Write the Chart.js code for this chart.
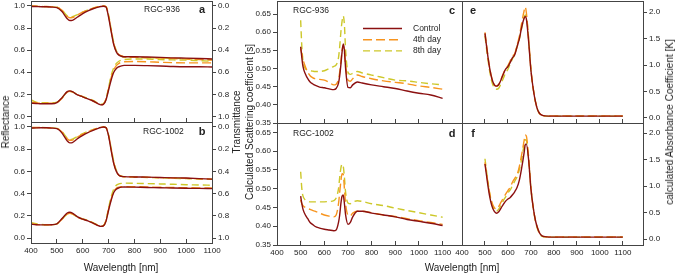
<!DOCTYPE html>
<html>
<head>
<meta charset="utf-8">
<script src="https://cdn.jsdelivr.net/npm/chart.js@4.4.0/dist/chart.umd.min.js"></script>
<style>
  body { margin: 0; background: #fff; }
  #fig { position: relative; width: 677px; height: 276px; font-family: "Liberation Sans", Arial, sans-serif; color: #222; overflow: hidden; }
  #fig canvas { position: absolute; left: 0; top: 0; }
  .txt { position: absolute; white-space: nowrap; font-size: 8.5px; line-height: 1; transform: translateY(-50%); }
  .letra { position: absolute; font-size: 11px; font-weight: bold; line-height: 1; transform: translate(-50%, -50%); }
  .titulo { position: absolute; font-size: 10px; white-space: nowrap; line-height: 1; transform: translate(-50%, -50%); }
  .vert { transform: translate(-50%, -50%) rotate(-90deg); }
</style>
</head>
<body>
<div id="fig">
  <canvas id="pa" width="677" height="276"></canvas>
  <canvas id="pb" width="677" height="276"></canvas>
  <canvas id="pc" width="677" height="276"></canvas>
  <canvas id="pd" width="677" height="276"></canvas>
  <canvas id="pe" width="677" height="276"></canvas>
  <canvas id="pf" width="677" height="276"></canvas>

  <div class="txt" style="left:144px; top:9px;">RGC-936</div>
  <div class="letra" style="left:202px; top:9px;">a</div>
  <div class="txt" style="left:143px; top:131px;">RGC-1002</div>
  <div class="letra" style="left:202px; top:131px;">b</div>
  <div class="txt" style="left:293px; top:10px;">RGC-936</div>
  <div class="letra" style="left:452px; top:10px;">c</div>
  <div class="txt" style="left:293px; top:133px;">RGC-1002</div>
  <div class="letra" style="left:452px; top:133px;">d</div>
  <div class="letra" style="left:473px; top:10px;">e</div>
  <div class="letra" style="left:473px; top:133px;">f</div>

  <div class="titulo vert" style="left:6px; top:122px;">Reflectance</div>
  <div class="titulo vert" style="left:237px; top:122px;">Transmittance</div>
  <div class="titulo vert" style="left:250px; top:122px;">Calculated Scattering coefficient [s]</div>
  <div class="titulo vert" style="left:670px; top:122px;">calculated Absorbance Coefficient [K]</div>
  <div class="titulo" style="left:121px; top:268px;">Wavelength [nm]</div>
  <div class="titulo" style="left:462px; top:268px;">Wavelength [nm]</div>
</div>

<script>
const W = 677, H = 276;
const AX = 26; // tamaño fijo de cada eje

// Longitudes de onda y ticks
const wlTicks = [400, 500, 600, 700, 800, 900, 1000, 1100];
const reflTicks = [0, 0.2, 0.4, 0.6, 0.8, 1.0];
const scatTicks = [0.35, 0.40, 0.45, 0.50, 0.55, 0.60, 0.65];
const absTicks = [0, 0.5, 1.0, 1.5, 2.0];

const wlAB = [400,420,440,460,480,500,520,540,550,560,580,600,620,640,660,670,680,690,700,710,720,730,740,750,760,800,850,900,950,1000,1050,1100];
const wlScat = [500,505,510,520,530,540,550,560,580,600,620,640,650,660,665,670,675,680,685,690,700,710,720,740,760,800,850,900,950,1000,1050,1100];
const wlAbs = [500,510,520,530,540,550,560,570,580,590,600,610,620,630,640,650,660,670,675,680,690,700,710,720,730,740,750,760,800,900,1000,1100];

// a - RGC-936 reflectancia / transmitancia
const refl936Control = [0.12,0.118,0.115,0.115,0.115,0.125,0.17,0.225,0.232,0.225,0.195,0.178,0.16,0.14,0.115,0.105,0.11,0.15,0.24,0.33,0.40,0.435,0.45,0.458,0.462,0.462,0.46,0.457,0.452,0.45,0.45,0.448];
const refl936Day4 = [0.13,0.125,0.12,0.12,0.12,0.125,0.165,0.22,0.228,0.222,0.195,0.178,0.16,0.14,0.115,0.105,0.112,0.155,0.25,0.35,0.42,0.46,0.48,0.49,0.495,0.497,0.495,0.49,0.487,0.485,0.485,0.485];
const refl936Day8 = [0.15,0.13,0.125,0.125,0.125,0.13,0.17,0.22,0.228,0.222,0.198,0.18,0.165,0.145,0.12,0.11,0.115,0.16,0.26,0.37,0.44,0.48,0.5,0.51,0.515,0.52,0.52,0.515,0.512,0.51,0.505,0.5];
const trans936Control = [0.005,0.005,0.007,0.007,0.01,0.015,0.05,0.115,0.132,0.13,0.10,0.07,0.045,0.025,0.01,0.005,0.003,0.01,0.10,0.23,0.35,0.415,0.445,0.455,0.46,0.46,0.462,0.465,0.47,0.472,0.475,0.48];
const trans936Day4 = [0,0.002,0.005,0.005,0.007,0.01,0.04,0.095,0.107,0.105,0.08,0.055,0.035,0.02,0.007,0.003,0,0.005,0.09,0.22,0.34,0.41,0.44,0.452,0.46,0.465,0.468,0.472,0.476,0.48,0.485,0.49];
const trans936Day8 = [0,0.003,0.005,0.006,0.008,0.012,0.038,0.09,0.1,0.098,0.078,0.055,0.035,0.02,0.007,0.003,0,0.005,0.08,0.21,0.33,0.405,0.44,0.455,0.463,0.465,0.468,0.47,0.474,0.478,0.482,0.485];

// b - RGC-1002
const refl1002Control = [0.125,0.12,0.118,0.118,0.12,0.128,0.175,0.225,0.232,0.225,0.19,0.17,0.155,0.135,0.112,0.105,0.11,0.15,0.25,0.34,0.41,0.44,0.452,0.458,0.46,0.458,0.455,0.453,0.45,0.448,0.447,0.445];
const refl1002Day4 = [0.13,0.122,0.12,0.12,0.12,0.127,0.17,0.215,0.222,0.217,0.188,0.17,0.155,0.135,0.112,0.105,0.11,0.155,0.26,0.35,0.42,0.448,0.458,0.462,0.463,0.462,0.46,0.457,0.455,0.453,0.452,0.45];
const refl1002Day8 = [0.14,0.128,0.122,0.12,0.12,0.127,0.17,0.215,0.222,0.217,0.188,0.172,0.158,0.138,0.115,0.107,0.113,0.16,0.27,0.37,0.44,0.475,0.487,0.492,0.494,0.493,0.49,0.487,0.484,0.48,0.478,0.475];
const trans1002Control = [0.01,0.008,0.007,0.007,0.01,0.015,0.055,0.125,0.143,0.14,0.105,0.075,0.05,0.03,0.012,0.005,0,0.005,0.08,0.21,0.33,0.4,0.435,0.445,0.447,0.45,0.452,0.455,0.458,0.46,0.465,0.47];
const trans1002Day4 = [0.005,0.005,0.005,0.006,0.008,0.012,0.045,0.105,0.12,0.118,0.09,0.065,0.042,0.025,0.01,0.004,0,0.005,0.075,0.2,0.32,0.4,0.435,0.445,0.448,0.45,0.453,0.456,0.46,0.463,0.467,0.47];
const trans1002Day8 = [0.008,0.006,0.005,0.006,0.008,0.012,0.043,0.1,0.115,0.11,0.085,0.06,0.04,0.023,0.009,0.003,0,0.005,0.07,0.19,0.31,0.39,0.43,0.443,0.448,0.452,0.455,0.458,0.462,0.465,0.468,0.472];

// c, d - coeficiente de dispersion
const scat936Control = [0.56,0.53,0.505,0.485,0.472,0.463,0.458,0.454,0.449,0.447,0.444,0.442,0.445,0.46,0.48,0.51,0.545,0.568,0.55,0.5,0.448,0.447,0.455,0.463,0.46,0.455,0.45,0.445,0.438,0.432,0.427,0.418];
const scat936Day4 = [0.555,0.54,0.525,0.505,0.49,0.48,0.475,0.472,0.47,0.468,0.462,0.455,0.457,0.47,0.49,0.52,0.55,0.563,0.545,0.51,0.468,0.465,0.472,0.482,0.478,0.472,0.466,0.462,0.458,0.452,0.448,0.443];
const scat936Day8 = [0.633,0.56,0.52,0.5,0.496,0.494,0.493,0.492,0.492,0.494,0.5,0.506,0.51,0.53,0.56,0.6,0.63,0.645,0.62,0.55,0.49,0.484,0.487,0.492,0.488,0.482,0.475,0.468,0.466,0.462,0.458,0.455];
const scat1002Control = [0.48,0.46,0.445,0.43,0.42,0.41,0.405,0.4,0.395,0.392,0.39,0.388,0.39,0.41,0.43,0.46,0.48,0.483,0.46,0.43,0.405,0.41,0.425,0.44,0.44,0.435,0.43,0.425,0.418,0.413,0.408,0.402];
const scat1002Day4 = [0.47,0.46,0.455,0.45,0.447,0.445,0.442,0.44,0.435,0.43,0.427,0.425,0.43,0.46,0.49,0.52,0.54,0.538,0.5,0.46,0.43,0.428,0.435,0.44,0.44,0.436,0.43,0.426,0.42,0.415,0.41,0.405];
const scat1002Day8 = [0.545,0.5,0.48,0.47,0.467,0.465,0.465,0.465,0.465,0.465,0.466,0.468,0.475,0.5,0.53,0.555,0.565,0.56,0.53,0.49,0.462,0.46,0.464,0.468,0.466,0.46,0.455,0.448,0.442,0.436,0.43,0.424];

// e, f - coeficiente de absorbancia
const abs936Control = [1.6,1.25,0.95,0.74,0.63,0.6,0.63,0.72,0.83,0.92,0.97,1.05,1.14,1.2,1.35,1.5,1.72,1.88,1.92,1.88,1.45,0.9,0.55,0.3,0.14,0.07,0.045,0.035,0.03,0.03,0.03,0.03];
const abs936Day4 = [1.62,1.27,0.96,0.75,0.63,0.6,0.63,0.73,0.84,0.93,0.99,1.08,1.17,1.22,1.38,1.55,1.8,2.02,2.1,2.0,1.5,0.92,0.56,0.3,0.14,0.07,0.045,0.04,0.035,0.035,0.035,0.035];
const abs936Day8 = [1.55,1.2,0.9,0.68,0.57,0.54,0.56,0.65,0.75,0.85,0.92,1.02,1.12,1.2,1.35,1.5,1.7,1.9,1.95,1.93,1.5,0.92,0.55,0.3,0.14,0.06,0.04,0.03,0.03,0.03,0.03,0.03];
const abs1002Control = [1.42,1.1,0.82,0.63,0.53,0.49,0.52,0.59,0.66,0.72,0.76,0.79,0.84,0.9,0.98,1.12,1.35,1.62,1.78,1.8,1.5,0.95,0.6,0.35,0.2,0.1,0.06,0.05,0.04,0.04,0.04,0.04];
const abs1002Day4 = [1.45,1.15,0.88,0.7,0.6,0.57,0.62,0.7,0.78,0.85,0.92,0.98,1.08,1.15,1.22,1.38,1.6,1.85,1.97,1.95,1.55,0.98,0.6,0.35,0.2,0.1,0.06,0.05,0.045,0.045,0.045,0.045];
const abs1002Day8 = [1.52,1.18,0.88,0.67,0.56,0.53,0.57,0.65,0.73,0.8,0.88,0.93,1.02,1.1,1.18,1.32,1.52,1.78,1.88,1.87,1.5,0.96,0.6,0.34,0.18,0.09,0.055,0.045,0.04,0.04,0.04,0.04];

const colores = { control: '#8b1010', day4: '#f7941e', day8: '#cdc82a' };
const fuente = { family: '"Liberation Sans", Arial, sans-serif', size: 8 };

Chart.defaults.font.family = fuente.family;
Chart.defaults.color = '#222';

function serie(label, xs, ys, color, dash, eje) {
  return {
    label: label,
    data: xs.map((x, i) => ({ x: x, y: ys[i] })),
    borderColor: color,
    borderWidth: 1.4,
    borderDash: dash,
    pointRadius: 0,
    cubicInterpolationMode: 'monotone',
    fill: false,
    yAxisID: eje || 'y'
  };
}

function tres(xs, c, d4, d8, eje) {
  return [
    serie('Control', xs, c, colores.control, [], eje),
    serie('4th day', xs, d4, colores.day4, [9, 4], eje),
    serie('8th day', xs, d8, colores.day8, [7, 4], eje)
  ];
}

// cada eje mide AX; el area del grafico se fija con el padding
function fijar(scale) {
  if (scale.isHorizontal()) scale.height = AX; else scale.width = AX;
  scale.paddingLeft = scale.paddingRight = scale.paddingTop = scale.paddingBottom = 0;
}

function ejeX(max, etiquetas) {
  return {
    type: 'linear', min: 400, max: max,
    afterBuildTicks: s => { s.ticks = wlTicks.map(v => ({ value: v })); },
    afterFit: fijar,
    ticks: { display: etiquetas, autoSkip: false, maxRotation: 0, padding: 7, font: fuente, color: '#222', callback: v => String(v) },
    grid: { drawOnChartArea: false, tickLength: -4, color: '#444' },
    border: { display: false }
  };
}

function ejeY(pos, min, max, lista, dec, reverse) {
  return {
    type: 'linear', position: pos, min: min, max: max, reverse: !!reverse,
    afterBuildTicks: s => { s.ticks = lista.map(v => ({ value: v })); },
    afterFit: fijar,
    ticks: { autoSkip: false, padding: 2, font: fuente, color: '#222', callback: v => v.toFixed(dec) },
    grid: { drawOnChartArea: false, tickLength: 4, color: '#444' },
    border: { display: false }
  };
}

const marco = {
  id: 'marco',
  afterDraw(chart) {
    const a = chart.chartArea, ctx = chart.ctx;
    ctx.save();
    ctx.strokeStyle = '#444';
    ctx.lineWidth = 1;
    ctx.strokeRect(Math.round(a.left) + 0.5, Math.round(a.top) + 0.5, Math.round(a.right - a.left), Math.round(a.bottom - a.top));
    ctx.restore();
  }
};

const leyendaInterna = {
  id: 'leyendaInterna',
  afterDatasetsDraw(chart, args, opts) {
    if (!opts.show) return;
    const ctx = chart.ctx, a = chart.chartArea;
    chart.data.datasets.forEach((ds, i) => {
      const x = a.left + 86, y = a.top + 27.5 + i * 11.2;
      ctx.save();
      ctx.strokeStyle = ds.borderColor;
      ctx.lineWidth = ds.borderWidth;
      ctx.setLineDash(ds.borderDash);
      ctx.beginPath();
      ctx.moveTo(x, y);
      ctx.lineTo(x + 39, y);
      ctx.stroke();
      ctx.setLineDash([]);
      ctx.fillStyle = '#222';
      ctx.font = '8.5px ' + fuente.family;
      ctx.textBaseline = 'middle';
      ctx.fillText(ds.label, x + 50, y);
      ctx.restore();
    });
  }
};

// area = [izq, arriba, der, abajo] del recuadro; lados = ejes y presentes
function grafico(id, area, scales, datasets, conLeyenda) {
  const izq = Object.values(scales).some(s => s.position === 'left') ? AX : 0;
  const der = Object.values(scales).some(s => s.position === 'right') ? AX : 0;
  return new Chart(document.getElementById(id), {
    type: 'line',
    data: { datasets: datasets },
    options: {
      responsive: false,
      animation: false,
      layout: { padding: { left: area[0] - izq, top: area[1], right: W - area[2] - der, bottom: H - area[3] - AX } },
      plugins: {
        legend: { display: false },
        tooltip: { enabled: false },
        leyendaInterna: { show: !!conLeyenda }
      },
      scales: scales
    },
    plugins: [marco, leyendaInterna]
  });
}

// a y b: reflectancia (izq) y transmitancia (der, invertida)
grafico('pa', [31, 1, 212, 122], {
  x: ejeX(1100, false),
  y: ejeY('left', -0.05, 1.045, reflTicks, 1),
  y2: ejeY('right', -0.045, 1.05, reflTicks, 1, true)
}, tres(wlAB, refl936Control, refl936Day4, refl936Day8).concat(tres(wlAB, trans936Control, trans936Day4, trans936Day8, 'y2')));

grafico('pb', [31, 122, 212, 243], {
  x: ejeX(1100, true),
  y: ejeY('left', -0.045, 1.045, reflTicks, 1),
  y2: ejeY('right', -0.045, 1.045, reflTicks, 1, true)
}, tres(wlAB, refl1002Control, refl1002Day4, refl1002Day8).concat(tres(wlAB, trans1002Control, trans1002Day4, trans1002Day8, 'y2')));

// c y d: dispersion
grafico('pc', [277, 1, 462, 123], {
  x: ejeX(1182, false),
  y: ejeY('left', 0.35, 0.686, scatTicks, 2)
}, tres(wlScat, scat936Control, scat936Day4, scat936Day8), true);

grafico('pd', [277, 123, 462, 245], {
  x: ejeX(1182, true),
  y: ejeY('left', 0.35, 0.675, scatTicks, 2)
}, tres(wlScat, scat1002Control, scat1002Day4, scat1002Day8));

// e y f: absorbancia
grafico('pe', [462, 1, 643, 123], {
  x: ejeX(1188, false),
  y: ejeY('right', -0.1, 2.214, absTicks, 1)
}, tres(wlAbs, abs936Control, abs936Day4, abs936Day8));

grafico('pf', [462, 123, 643, 245], {
  x: ejeX(1188, true),
  y: ejeY('right', -0.108, 2.194, absTicks, 1)
}, tres(wlAbs, abs1002Control, abs1002Day4, abs1002Day8));
</script>
</body>
</html>
